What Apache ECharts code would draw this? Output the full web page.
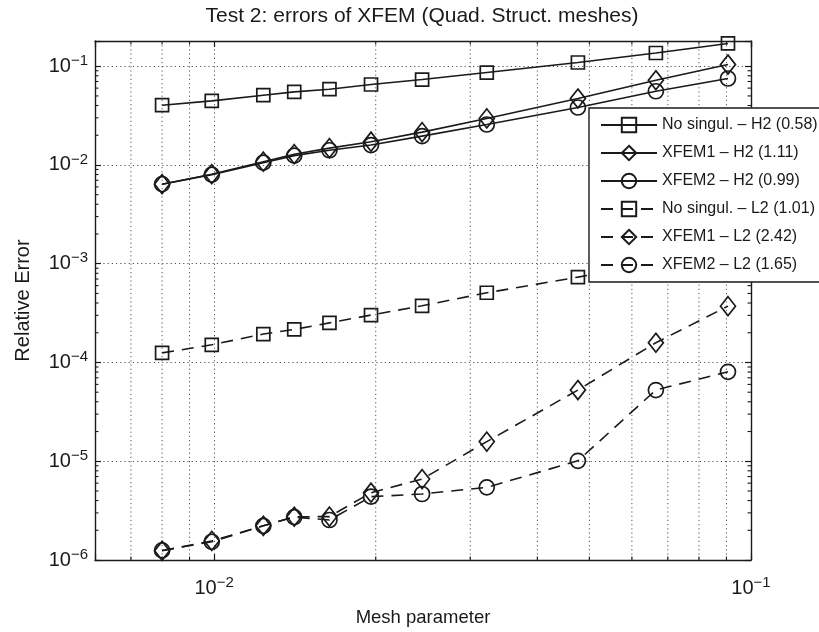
<!DOCTYPE html>
<html>
<head>
<meta charset="utf-8">
<script src="https://cdn.jsdelivr.net/npm/echarts@6/dist/echarts.min.js"></script>
<style>html,body{margin:0;padding:0;background:#fff}#c{width:819px;height:632px}</style>
</head>
<body>
<div id="c"></div>
<script>
// ---- data ----
const meshParam = [0.0080, 0.0099, 0.01235, 0.0141, 0.0164, 0.0196, 0.0244, 0.0322, 0.0476, 0.0665, 0.0906];
const noSingH2 = [0.0403, 0.0446, 0.0509, 0.0550, 0.0585, 0.0653, 0.0733, 0.0863, 0.109, 0.136, 0.170];
const xfem1H2  = [0.00639, 0.00807, 0.0108, 0.01286, 0.0148, 0.0172, 0.0215, 0.0296, 0.0471, 0.0721, 0.104];
const xfem2H2  = [0.00639, 0.00798, 0.01055, 0.01243, 0.0141, 0.0159, 0.0196, 0.0257, 0.0382, 0.0558, 0.0751];
const noSingL2 = [1.25e-4, 1.51e-4, 1.94e-4, 2.16e-4, 2.52e-4, 3.02e-4, 3.75e-4, 5.08e-4, 7.32e-4, 1.01e-3, 1.37e-3];
const xfem1L2  = [1.24e-6, 1.56e-6, 2.22e-6, 2.74e-6, 2.75e-6, 4.8e-6, 6.6e-6, 1.58e-5, 5.26e-5, 1.585e-4, 3.72e-4];
const xfem2L2  = [1.25e-6, 1.53e-6, 2.22e-6, 2.72e-6, 2.54e-6, 4.38e-6, 4.66e-6, 5.44e-6, 1.01e-5, 5.26e-5, 8.05e-5];
const seriesNames = ['No singul. \u2013 H2 (0.58)', 'XFEM1 \u2013 H2 (1.11)', 'XFEM2 \u2013 H2 (0.99)',
                     'No singul. \u2013 L2 (1.01)', 'XFEM1 \u2013 L2 (2.42)', 'XFEM2 \u2013 L2 (1.65)'];
const titleText = 'Test 2: errors of XFEM (Quad. Struct. meshes)';
const xName = 'Mesh parameter';
const yName = 'Relative Error';
const xMin = 0.006, xMax = 0.1, yMin = 1e-6, yMax = 0.18;

// ---- styling ----
const FONT = "'Liberation Sans', Arial, sans-serif";
const ink = '#1a1a1a';
const gridColor = '#555';

function minorValues(lo, hi) {
  const out = [];
  for (let k = Math.floor(Math.log10(lo)); k <= Math.ceil(Math.log10(hi)); k++) {
    for (let m = 2; m <= 9; m++) {
      const v = m * Math.pow(10, k);
      if (v > lo * 1.0001 && v < hi * 0.9999) out.push(v);
    }
  }
  return out;
}
const xMinor = minorValues(xMin, xMax);
const yMinor = minorValues(yMin, yMax);

function powLabel(v) {
  const l = Math.log10(v);
  const r = Math.round(l);
  if (Math.abs(l - r) > 1e-6) return '';
  return '{b|10}{s|\u2212' + (-r) + '}';
}
const labelRich = {
  b: { fontFamily: FONT, fontSize: 20, color: ink },
  s: { fontFamily: FONT, fontSize: 15, color: ink, padding: [0, 0, 11, 0] }
};

const markerStyle = { color: 'rgba(0,0,0,0)', borderColor: ink, borderWidth: 1.7 };
function mk(name, ys, symbol, size, dashed) {
  return {
    name: name, type: 'line',
    data: meshParam.map((x, i) => [x, ys[i]]),
    symbol: symbol, symbolSize: size, showSymbol: true,
    lineStyle: { color: ink, width: 1.6, type: dashed ? [12, 8] : 'solid' },
    itemStyle: markerStyle,
    emphasis: { disabled: true },
    z: 3
  };
}

const axisLineStyle = { color: ink, width: 1.4 };
const option = {
  animation: false,
  backgroundColor: '#fff',
  grid: { left: 95, top: 41, right: 68, bottom: 72 },
  graphic: [{
    type: 'text', x: 422, y: 16,
    style: { text: titleText, font: '21px ' + FONT, fill: ink, textAlign: 'center', textVerticalAlign: 'middle' }
  }],
  legend: {
    orient: 'vertical', left: 589, top: 108,
    data: seriesNames,
    backgroundColor: '#fff', borderColor: ink, borderWidth: 1.4,
    padding: [8, 12, 8, 11],
    itemWidth: 56, itemHeight: 18, itemGap: 10,
    textStyle: { fontFamily: FONT, fontSize: 16, color: ink, lineHeight: 18 },
    selectedMode: false, z: 10
  },
  xAxis: [{
    type: 'log', logBase: 10, min: xMin, max: xMax,
    name: xName, nameLocation: 'middle', nameGap: 48,
    nameTextStyle: { fontFamily: FONT, fontSize: 18.5, color: ink },
    axisLine: { show: true, lineStyle: axisLineStyle },
    axisTick: { show: true, inside: true, length: 6, lineStyle: { color: ink, width: 1.2 } },
    axisLabel: { formatter: powLabel, rich: labelRich, margin: 15 },
    splitLine: { show: true, lineStyle: { color: gridColor, type: [1.2, 3], width: 1 } }
  }, {
    type: 'log', logBase: 10, min: xMin, max: xMax, position: 'top',
    axisLine: { show: true, lineStyle: axisLineStyle },
    axisTick: { show: true, inside: true, length: 6, lineStyle: { color: ink, width: 1.2 } },
    axisLabel: { show: false }, splitLine: { show: false }
  }],
  yAxis: [{
    type: 'log', logBase: 10, min: yMin, max: yMax,
    name: yName, nameLocation: 'middle', nameGap: 62, nameRotate: 90,
    nameTextStyle: { fontFamily: FONT, fontSize: 20, color: ink },
    axisLine: { show: true, lineStyle: axisLineStyle },
    axisTick: { show: true, inside: true, length: 6, lineStyle: { color: ink, width: 1.2 } },
    axisLabel: { formatter: powLabel, rich: labelRich, margin: 7 },
    splitLine: { show: true, lineStyle: { color: gridColor, type: [1.2, 3], width: 1 } }
  }, {
    type: 'log', logBase: 10, min: yMin, max: yMax, position: 'right',
    axisLine: { show: true, lineStyle: axisLineStyle },
    axisTick: { show: true, inside: true, length: 6, lineStyle: { color: ink, width: 1.2 } },
    axisLabel: { show: false }, splitLine: { show: false }
  }],
  series: [
    {
      type: 'custom', name: 'minor', silent: true, z: 1,
      xAxisIndex: 0, yAxisIndex: 0,
      data: [[0.01, 0.01]],
      renderItem: function (params, api) {
        const cs = params.coordSys;
        const ch = [];
        const top = cs.y, bot = cs.y + cs.height, lft = cs.x, rgt = cs.x + cs.width;
        xMinor.forEach(v => {
          const px = api.coord([v, yMax])[0];
          ch.push({ type: 'line', shape: { x1: px, y1: top, x2: px, y2: bot },
            style: { stroke: gridColor, lineWidth: 1, lineDash: [1.2, 3] } });
          ch.push({ type: 'line', shape: { x1: px, y1: bot, x2: px, y2: bot - 3.5 }, style: { stroke: ink, lineWidth: 1.1 } });
          ch.push({ type: 'line', shape: { x1: px, y1: top, x2: px, y2: top + 3.5 }, style: { stroke: ink, lineWidth: 1.1 } });
        });
        yMinor.forEach(v => {
          const py = api.coord([xMin, v])[1];
          ch.push({ type: 'line', shape: { x1: lft, y1: py, x2: lft + 3.5, y2: py }, style: { stroke: ink, lineWidth: 1.1 } });
          ch.push({ type: 'line', shape: { x1: rgt, y1: py, x2: rgt - 3.5, y2: py }, style: { stroke: ink, lineWidth: 1.1 } });
        });
        return { type: 'group', children: ch };
      }
    },
    mk(seriesNames[0], noSingH2, 'rect', 13, false),
    mk(seriesNames[1], xfem1H2, 'diamond', [15, 19], false),
    mk(seriesNames[2], xfem2H2, 'circle', 15, false),
    mk(seriesNames[3], noSingL2, 'rect', 13, true),
    mk(seriesNames[4], xfem1L2, 'diamond', [15, 19], true),
    mk(seriesNames[5], xfem2L2, 'circle', 15, true)
  ]
};
const chart = echarts.init(document.getElementById('c'), null, { renderer: 'canvas' });
chart.setOption(option);
</script>
</body>
</html>
